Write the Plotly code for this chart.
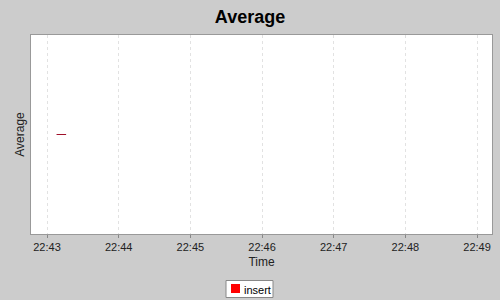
import plotly.graph_objects as go

# Data
times = ["2024-01-01 22:43:08", "2024-01-01 22:43:16"]
values = [1.0, 1.0]
series_name = "insert"
series_color = "#ff0000"
tick_vals = ["2024-01-01 22:43", "2024-01-01 22:44", "2024-01-01 22:45", "2024-01-01 22:46",
             "2024-01-01 22:47", "2024-01-01 22:48", "2024-01-01 22:49"]
tick_text = ["22:43", "22:44", "22:45", "22:46", "22:47", "22:48", "22:49"]
x_range = ["2024-01-01 22:42:46.6", "2024-01-01 22:49:12.5"]
y_range = [0, 2]

font = "Liberation Sans, Arial, sans-serif"

W, H = 500, 300
ML, MR, MT, MB = 31, 8, 35, 66
PW, PH = W - ML - MR, H - MT - MB


def px_x(px):
    return (px - ML) / PW


def px_y(py):
    return (H - MB - py) / PH


fig = go.Figure()
fig.add_trace(go.Scatter(x=times, y=values, mode="lines", name=series_name,
                         line=dict(color="#a0102a", width=1), showlegend=False,
                         hoverinfo="skip"))

fig.update_layout(
    width=W, height=H,
    margin=dict(l=ML, r=MR, t=MT, b=MB, autoexpand=False),
    paper_bgcolor="#cccccc", plot_bgcolor="#ffffff",
    title=dict(text="<b>Average</b>", x=0.5, xanchor="center", y=1 - 17/300, yanchor="middle",
               font=dict(family=font, size=18, color="#000000")),
    xaxis=dict(type="date", range=x_range, tickvals=tick_vals, ticktext=tick_text,
               showgrid=True, gridcolor="#e2e2e2", griddash="3px,3px", gridwidth=1,
               ticks="outside", ticklen=3, tickcolor="#888888",
               tickfont=dict(family=font, size=11, color="#222222"),
               showline=True, linecolor="#999999", linewidth=1, mirror=True,
               zeroline=False,
               title=dict(text="Time", font=dict(family=font, size=12, color="#222222"), standoff=5)),
    yaxis=dict(range=y_range, showticklabels=False, showgrid=False, zeroline=False,
               ticks="", showline=True, linecolor="#999999", linewidth=1, mirror=True,
               title=dict(text="Average", font=dict(family=font, size=12, color="#222222"), standoff=2)),
    showlegend=False,
)

# Legend drawn manually
fig.add_shape(type="rect", xref="paper", yref="paper",
              x0=px_x(226), x1=px_x(273), y0=px_y(297.5), y1=px_y(280.5),
              fillcolor="#ffffff", line=dict(color="#888888", width=1), layer="above")
fig.add_shape(type="rect", xref="paper", yref="paper",
              x0=px_x(231), x1=px_x(240), y0=px_y(293), y1=px_y(284),
              fillcolor=series_color, line=dict(width=0), layer="above")
fig.add_annotation(xref="paper", yref="paper", x=px_x(242), y=px_y(289.5),
                   xanchor="left", yanchor="middle", text=series_name, showarrow=False,
                   font=dict(family=font, size=11, color="#000000"))

fig.write_html("out.html")
